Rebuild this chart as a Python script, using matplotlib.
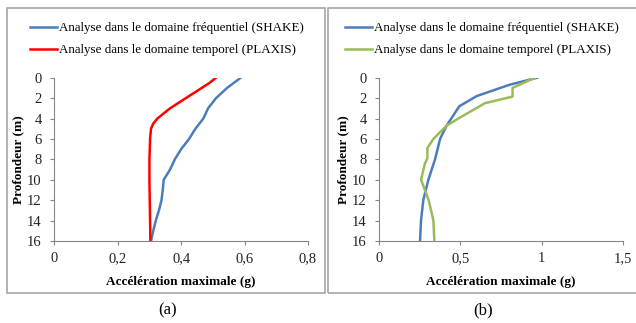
import numpy as np
import matplotlib
matplotlib.use("Agg")
from matplotlib import pyplot as plt
from matplotlib.patches import Rectangle

# Panel (a)
prof_a_shake = [0, 1, 2, 3, 4, 5, 6, 7, 8, 9, 10, 11, 12, 13, 14, 15, 16]
acc_a_shake = [0.588, 0.545, 0.51, 0.485, 0.47, 0.445, 0.425, 0.40, 0.38, 0.365,
               0.345, 0.342, 0.338, 0.33, 0.32, 0.312, 0.305]
prof_a_plaxis = [0, 0.5, 1, 1.5, 2, 2.5, 3, 3.5, 4, 4.5, 5, 6, 8, 10, 12, 14, 16]
acc_a_plaxis = [0.51, 0.49, 0.465, 0.44, 0.415, 0.39, 0.365, 0.345, 0.325, 0.312,
                0.305, 0.302, 0.300, 0.300, 0.301, 0.302, 0.303]

# Panel (b)
prof_b_shake = [0, 0.7, 1.8, 2.8, 4.7, 6, 8, 10, 12, 14, 16]
acc_b_shake = [0.972, 0.80, 0.60, 0.493, 0.415, 0.375, 0.344, 0.303, 0.272, 0.258, 0.252]
prof_b_plaxis = [0, 1.0, 1.85, 2.5, 4, 4.7, 6, 6.9, 7.9, 8.4, 10, 11.3, 12, 14, 16]
acc_b_plaxis = [0.958, 0.82, 0.82, 0.65, 0.487, 0.415, 0.334, 0.297, 0.297, 0.282,
                0.258, 0.289, 0.305, 0.334, 0.34]

lbl_shake = "Analyse dans le domaine fréquentiel (SHAKE)"
lbl_plaxis = "Analyse dans le domaine temporel (PLAXIS)"

plt.rcParams['font.family'] = ['Liberation Serif', 'DejaVu Serif']
gris = '#868686'

fig = plt.figure(figsize=(6.36, 3.23), dpi=100)

# cadres gris autour des deux graphiques
W, H = 636.0, 323.0
fig.patches.append(Rectangle((7 / W, 1 - 293 / H), 318 / W, 285 / H, transform=fig.transFigure,
                             fill=False, edgecolor='#a6a6a6', lw=1.2))
fig.patches.append(Rectangle((328 / W, 1 - 293 / H), 320 / W, 285 / H, transform=fig.transFigure,
                             fill=False, edgecolor='#a6a6a6', lw=1.2))


def panneau(pos, x1, y1, c1, x2, y2, c2, xmax, xticks, xticklabels, lettre, xlet, xleg):
    ax = fig.add_axes(pos)
    l1, = ax.plot(x1, y1, color=c1, lw=1.8)
    l2, = ax.plot(x2, y2, color=c2, lw=1.8)
    ax.set_xlim(0, xmax)
    ax.set_ylim(16, 0)
    ax.set_yticks(np.arange(0, 17, 2))
    ax.set_xticks(xticks)
    ax.set_xticklabels(xticklabels)
    for s in ['top', 'right']:
        ax.spines[s].set_visible(False)
    for s in ['left', 'bottom']:
        ax.spines[s].set_color(gris)
    ax.tick_params(colors=gris, labelcolor='#222222', labelsize=10.5, length=3)
    ax.tick_params(axis='y', pad=6)
    ax.tick_params(axis='x', pad=5)
    ax.set_xlabel("Accélération maximale (g)", fontweight='bold', fontsize=9.5, labelpad=8)
    ax.set_ylabel("Profondeur (m)", fontweight='bold', fontsize=9.5, labelpad=2)
    fig.legend([l1, l2], [lbl_shake, lbl_plaxis], loc='upper left',
               bbox_to_anchor=(xleg / W, 1 - 22 / H), frameon=False, fontsize=9.4,
               handlelength=2.1, handletextpad=0.1, labelspacing=0.78,
               borderpad=0, borderaxespad=0)
    fig.text(xlet / W, 1 - 310 / H, lettre, ha='center', va='center', fontsize=12)
    return ax


panneau([54.3 / W, 1 - 241 / H, 253.7 / W, 163.3 / H],
        acc_a_shake, prof_a_shake, '#4a7ebb', acc_a_plaxis, prof_a_plaxis, '#ff0000',
        0.8, [0, 0.2, 0.4, 0.6, 0.8], ['0', '0,2', '0,4', '0,6', '0,8'], "(a)", 168, 30)

panneau([379 / W, 1 - 241 / H, 244.3 / W, 163.3 / H],
        acc_b_shake, prof_b_shake, '#4a7ebb', acc_b_plaxis, prof_b_plaxis, '#9bbb59',
        1.5, [0, 0.5, 1, 1.5], ['0', '0,5', '1', '1,5'], "(b)", 483, 345)

fig.savefig("out.png", dpi=100)
